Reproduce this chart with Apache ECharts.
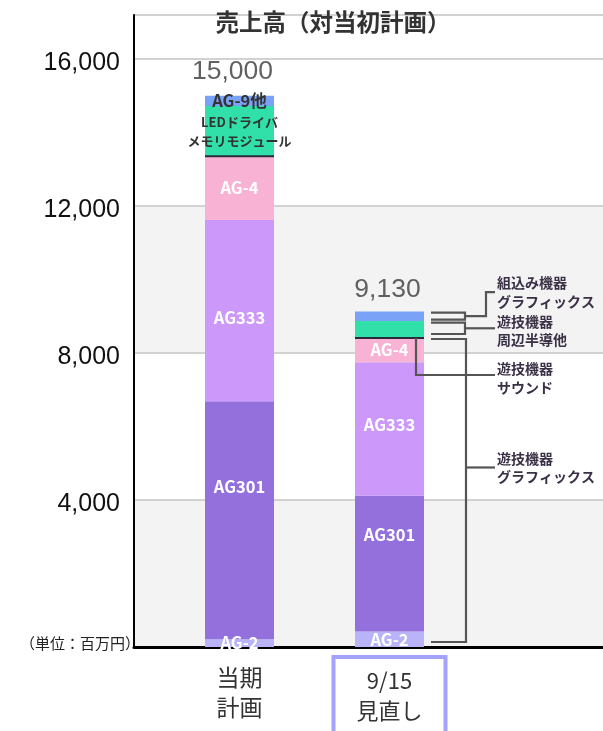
<!DOCTYPE html>
<html>
<head>
<meta charset="utf-8">
<script src="https://cdn.jsdelivr.net/npm/echarts@6/dist/echarts.min.js"></script>
<style>
html,body{margin:0;padding:0;background:#fff;}
#chart{width:603px;height:731px;}
</style>
</head>
<body>
<div id="chart"></div>
<script>
// ---- data ----
const categories = ['当期\n計画', '9/15\n見直し'];
const ag2 = [210, 420];
const ag301 = [6480, 3700];
const ag333 = [4930, 3630];
const ag4 = [1735, 660];
const ledMemory = [1370, 460];
const ag9 = [275, 260];
const totals = [15000, 9130];
const titleText = '売上高（対当初計画）';
const unitText = '（単位：百万円）';
const annotationTexts = ['組込み機器\nグラフィックス', '遊技機器\n周辺半導他', '遊技機器\nサウンド', '遊技機器\nグラフィックス'];

const JP = '"Noto Sans CJK JP", sans-serif';
const AR = '"Liberation Sans", Arial, sans-serif';
const Y_MAX = 17200;

const chart = echarts.init(document.getElementById('chart'), null, {renderer: 'canvas'});

function seg(name, values, color, labels, labelStyle, offsets) {
  return {
    name: name,
    type: 'bar',
    stack: 'total',
    xAxisIndex: 1,
    yAxisIndex: 1,
    barWidth: 69,
    itemStyle: {color: color},
    data: values.map((v, i) => ({
      value: v,
      label: {
        show: !!labels[i],
        formatter: labels[i] || '',
        offset: offsets ? offsets[i] : [0, 0]
      }
    })),
    label: Object.assign({
      position: 'inside',
      color: '#fff',
      fontFamily: JP,
      fontWeight: 'bold',
      fontSize: 16.5
    }, labelStyle || {})
  };
}

const option = {
  animation: false,
  backgroundColor: '#fff',
  title: {
    text: titleText,
    left: 328,
    textAlign: 'center',
    top: 5,
    textStyle: {fontFamily: JP, fontWeight: 'bold', fontSize: 23.5, color: '#333'}
  },
  grid: [
    {left: 134, right: 0, top: 15, bottom: 84, outerBoundsMode: 'none', containLabel: false},
    {left: 164.5, right: 138.5, top: 15, bottom: 84, outerBoundsMode: 'none', containLabel: false}
  ],
  xAxis: [
    {
      gridIndex: 0, type: 'value', min: 0, max: 1,
      axisLine: {show: true, lineStyle: {color: '#000', width: 3}},
      axisTick: {show: false}, axisLabel: {show: false}, splitLine: {show: false}
    },
    {
      gridIndex: 1, type: 'category',
      data: categories.map((c, i) => ({
        value: c,
        textStyle: i === 1
          ? {borderColor: '#a3a3fb', borderWidth: 4, padding: [9, 23, 14, 23]}
          : {padding: [6, 20, 14, 20], fontSize: 23}
      })),
      axisLine: {show: false}, axisTick: {show: false},
      axisLabel: {
        margin: 10, interval: 0,
        fontFamily: JP, fontSize: 22, lineHeight: 29.5, color: '#333'
      }
    }
  ],
  yAxis: [
    {
      gridIndex: 0, type: 'value', min: 0, max: Y_MAX, interval: 4000,
      axisLine: {show: true, lineStyle: {color: '#000', width: 2}},
      axisTick: {show: false},
      axisLabel: {
        margin: -6,
        showMaxLabel: false,
        formatter: function (v) {
          if (v === 0) return '{u|' + unitText + '}';
          if (v % 4000 !== 0) return '';
          return '{n|' + v.toLocaleString('en-US') + '}';
        },
        rich: {
          u: {fontFamily: JP, fontSize: 15, color: '#222', padding: [0, 0, 8, 0]},
          n: {fontFamily: AR, fontSize: 25, color: '#111', padding: [8, 20, 0, 0]}
        }
      },
      splitLine: {show: true, lineStyle: {color: '#d2d2d2', width: 2}},
      splitArea: {show: true, areaStyle: {color: ['#f3f3f3', '#ffffff', '#f3f3f3', '#ffffff', '#ffffff']}}
    },
    {
      gridIndex: 1, type: 'value', min: 0, max: Y_MAX, interval: 4000, show: false
    }
  ],
  series: [
    seg('AG-2', ag2, '#b9b4fa', ['AG-2', 'AG-2']),
    seg('AG301', ag301, '#9470dc', ['AG301', 'AG301'], null, [[0, -33], [0, -29]]),
    seg('AG333', ag333, '#cc99fb', ['AG333', 'AG333'], null, [[0, 7], [0, -4]]),
    seg('AG-4', ag4, '#f8b3d4', ['AG-4', 'AG-4']),
    seg('LEDドライバ メモリモジュール', ledMemory, '#30e0a8', ['LEDドライバ\nメモリモジュール', ''],
        {color: '#333', fontSize: 13, lineHeight: 19}),
    seg('AG-9他', ag9, '#7aa3f8', ['AG-9他', ''], {color: '#333', fontSize: 16.5}),
    {
      name: 'total', type: 'scatter', xAxisIndex: 1, yAxisIndex: 1,
      symbolSize: 1, itemStyle: {color: 'rgba(0,0,0,0)'}, z: 10,
      data: totals.map((v, i) => ({value: v, label: {offset: i === 0 ? [-7, 2] : [-2, 4]}})),
      label: {
        show: true, position: 'top', distance: 12,
        formatter: p => p.value.toLocaleString('en-US'),
        fontFamily: AR, fontSize: 26.5, color: '#3a3a3a'
      }
    }
  ]
};
chart.setOption(option);

// ---- annotations built from the data through the axis scales ----
function cumulative(i) {
  const parts = [ag2[i], ag301[i], ag333[i], ag4[i], ledMemory[i], ag9[i]];
  const out = [0];
  parts.forEach(p => out.push(out[out.length - 1] + p));
  return out; // boundaries
}
function px(ci, v) { return chart.convertToPixel({gridIndex: 1}, [ci, v]); }

const elements = [];
const LINE = {stroke: '#555', lineWidth: 2.2, fill: null};
[0, 1].forEach(ci => {
  const b = cumulative(ci);
  const p = px(ci, b[4]);
  elements.push({type: 'rect', z: 50, shape: {x: p[0] - 34.5, y: p[1] - 1, width: 69, height: 2}, style: {fill: '#2b2a3c'}});
});

(function () {
  const b = cumulative(1);
  const xc = px(1, 0)[0];
  const right = xc + 34.5;
  const y = v => px(1, v)[1];
  const x0 = right + 7, x1 = right + 41, x2 = right + 62, xl = right + 71, tx = right + 73;
  const poly = (pts) => elements.push({type: 'polyline', z: 50, shape: {points: pts}, style: LINE});
  const text = (t, yy) => elements.push({
    type: 'text', z: 50,
    style: {text: t, x: tx, y: yy, verticalAlign: 'middle', align: 'left',
            font: 'bold 14px "Noto Sans CJK JP"', lineHeight: 18.5, fill: '#3a3046'}
  });
  // 組込み機器 グラフィックス (AG-9他 segment)
  let t = y(b[6]) + 1, bo = y(b[5]) - 1.5, m = (t + bo) / 2, ly = m - 24;
  poly([[x0, t], [x1, t], [x1, bo], [x0, bo]]);
  poly([[x1, m], [x2, m], [x2, ly], [xl, ly]]);
  text(annotationTexts[0], ly);
  // 遊技機器 周辺半導他 (green segment)
  t = y(b[5]) + 1.5; bo = y(b[4]) - 4; m = (t + bo) / 2;
  poly([[x0, t], [x1, t], [x1, bo], [x0, bo]]);
  poly([[x1, m], [xl, m]]);
  text(annotationTexts[1], m + 2.5);
  // 遊技機器 サウンド (AG-4 segment)
  const xs = right - 8, ys = y(b[4]);
  poly([[xs, ys], [xs, ys + 37], [xl, ys + 37]]);
  text(annotationTexts[2], ys + 40);
  // 遊技機器 グラフィックス (AG-2..AG-4)
  t = y(b[4]) + 1; bo = y(b[0]) - 5;
  const xg = x1 + 1, yc = t + 128.5;
  poly([[x0, t], [xg, t], [xg, bo], [x0, bo]]);
  poly([[xg, yc], [xl, yc]]);
  text(annotationTexts[3], yc);
})();

chart.setOption({graphic: {elements: elements}});
</script>
</body>
</html>
